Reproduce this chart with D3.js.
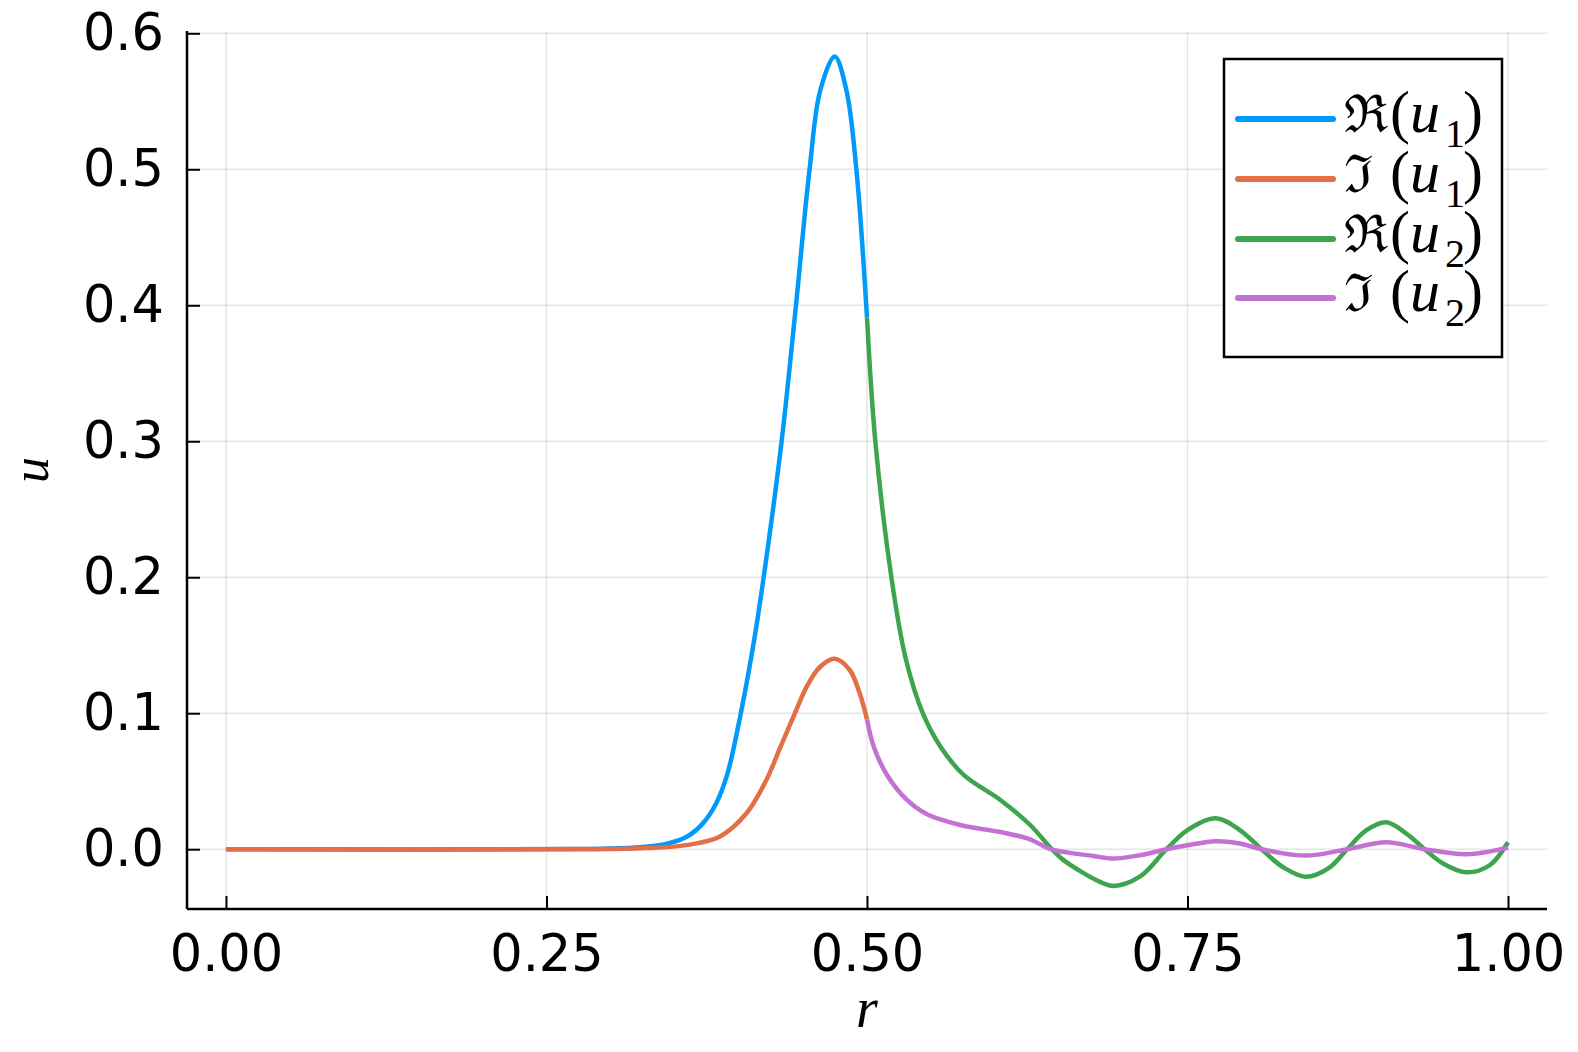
<!DOCTYPE html>
<html>
<head>
<meta charset="utf-8">
<script src="https://cdn.jsdelivr.net/npm/d3@7"></script>
<style>
  body { margin: 0; background: #fff; }
  svg text { font-family: 'DejaVu Sans', sans-serif; }
</style>
</head>
<body>
<script>
const w = 1578;
const h = 1052;

const xTicks = [0, 0.25, 0.5, 0.75, 1.0];
const xTickLabels = ['0.00', '0.25', '0.50', '0.75', '1.00'];
const yTicks = [0, 0.1, 0.2, 0.3, 0.4, 0.5, 0.6];
const yTickLabels = ['0.0', '0.1', '0.2', '0.3', '0.4', '0.5', '0.6'];

// Re(u1) on [0, 0.5]
const rRe1 = [0, 0.28, 0.32, 0.345, 0.36, 0.372, 0.382, 0.391, 0.402, 0.412, 0.4194, 0.4334, 0.4446, 0.4552, 0.4636, 0.4748, 0.4839, 0.4917, 0.5];
const re1 = [0, 0.0001, 0.0012, 0.0043, 0.0095, 0.019, 0.033, 0.055, 0.102, 0.154, 0.2, 0.3, 0.4, 0.5, 0.5583, 0.583, 0.5583, 0.5, 0.391];

// Im(u1) on [0, 0.5]
const rIm1 = [0, 0.3, 0.33, 0.359, 0.385, 0.406, 0.4215, 0.4326, 0.4438, 0.4527, 0.4631, 0.4748, 0.4865, 0.4943, 0.5];
const im1 = [0, 0.0001, 0.0008, 0.003, 0.0092, 0.0264, 0.0509, 0.0754, 0.1, 0.119, 0.1338, 0.14, 0.1318, 0.1146, 0.0955];

// Re(u2) on [0.5, 1]
const rRe2 = [0.5, 0.5065, 0.519, 0.53, 0.5435, 0.5572, 0.5754, 0.604, 0.6273, 0.6442, 0.6533, 0.6817, 0.692, 0.7128, 0.7336, 0.75, 0.7721, 0.7908, 0.8077, 0.8246, 0.8423, 0.861, 0.8745, 0.8896, 0.9051, 0.9207, 0.935, 0.9493, 0.9675, 0.9857, 1.0];
const re2 = [0.391, 0.3, 0.2, 0.141, 0.1, 0.0756, 0.0546, 0.0362, 0.0178, 0, -0.008, -0.024, -0.027, -0.0202, 0, 0.0141, 0.0227, 0.0141, 0, -0.0133, -0.0202, -0.0133, 0, 0.014, 0.0198, 0.0115, 0, -0.0105, -0.017, -0.0118, 0.0051];

// Im(u2) on [0.5, 1]
const rIm2 = [0.5, 0.5052, 0.5156, 0.5312, 0.5468, 0.5728, 0.604, 0.6273, 0.643, 0.6767, 0.692, 0.7128, 0.7336, 0.75, 0.7721, 0.7908, 0.8077, 0.8423, 0.8745, 0.9051, 0.935, 0.9675, 1.0];
const im2 = [0.0955, 0.0756, 0.0546, 0.0362, 0.0257, 0.0178, 0.0126, 0.0073, 0, -0.005, -0.0069, -0.0044, 0, 0.0029, 0.0059, 0.0042, 0, -0.0047, 0, 0.0051, 0, -0.0037, 0.0012];

const seriesColors = ['#009AFA', '#E36F47', '#3EA44E', '#C371D2'];
const legendLetters = ['\u211C', '\u2111', '\u211C', '\u2111'];
const legendSubs = ['1', '1', '2', '2'];

const series = [
  { r: rRe1, u: re1 },
  { r: rIm1, u: im1 },
  { r: rRe2, u: re2 },
  { r: rIm2, u: im2 }
];

const pLeft = 187, pRight = 1547, pTop = 31, pBottom = 909;

const x = d3.scaleLinear().domain([-0.0304, 1.0304]).range([pLeft, pRight]);
const y = d3.scaleLinear().domain([-0.04397, 0.6017]).range([pBottom, pTop]);

const svg = d3.select('body')
  .append('svg')
  .attr('width', w)
  .attr('height', h);

svg.append('rect').attr('width', w).attr('height', h).attr('fill', '#fff');

// grid
svg.selectAll('line.gx')
  .data(xTicks)
  .enter()
  .append('line')
  .attr('x1', d => x(d)).attr('x2', d => x(d))
  .attr('y1', pTop).attr('y2', pBottom)
  .attr('stroke', '#000').attr('stroke-opacity', 0.1).attr('stroke-width', 1.5);

svg.selectAll('line.gy')
  .data(yTicks)
  .enter()
  .append('line')
  .attr('x1', pLeft).attr('x2', pRight)
  .attr('y1', d => y(d)).attr('y2', d => y(d))
  .attr('stroke', '#000').attr('stroke-opacity', 0.1).attr('stroke-width', 1.5);

// axes
const xAxis = d3.axisBottom(x)
  .tickValues(xTicks)
  .tickFormat((d, i) => xTickLabels[i])
  .tickSizeInner(-13)
  .tickSizeOuter(0)
  .tickPadding(26);

const yAxis = d3.axisLeft(y)
  .tickValues(yTicks)
  .tickFormat((d, i) => yTickLabels[i])
  .tickSizeInner(-13)
  .tickSizeOuter(0)
  .tickPadding(23);

const gx = svg.append('g').attr('transform', `translate(0,${pBottom})`).call(xAxis);
const gy = svg.append('g').attr('transform', `translate(${pLeft},0)`).call(yAxis);

[gx, gy].forEach(g => {
  g.select('.domain').attr('stroke', '#000').attr('stroke-width', 2.5);
  g.selectAll('.tick line').attr('stroke', '#000').attr('stroke-width', 2);
  g.selectAll('.tick text')
    .attr('fill', '#000')
    .style('font-family', "'DejaVu Sans', sans-serif")
    .style('font-size', '51px');
});
gx.select('.domain').attr('d', `M${pLeft},0H${pRight}`);
gy.select('.domain').attr('d', `M0,${pBottom}V${pTop}`);

// axis labels
svg.append('text')
  .attr('x', (pLeft + pRight) / 2)
  .attr('y', 1027)
  .attr('text-anchor', 'middle')
  .style('font-family', "'Liberation Serif', serif")
  .style('font-style', 'italic')
  .style('font-size', '56px')
  .text('r');

svg.append('text')
  .attr('transform', `translate(48,${(pTop + pBottom) / 2}) rotate(-90)`)
  .attr('text-anchor', 'middle')
  .style('font-family', "'Liberation Serif', serif")
  .style('font-style', 'italic')
  .style('font-size', '52px')
  .text('u');

// curves
const line = d3.line()
  .x(d => x(d[0]))
  .y(d => y(d[1]))
  .curve(d3.curveCatmullRom.alpha(0.5));

svg.selectAll('path.curve')
  .data(series)
  .enter()
  .append('path')
  .attr('class', 'curve')
  .attr('d', s => line(s.r.map((r, i) => [r, s.u[i]])))
  .attr('fill', 'none')
  .attr('stroke', (s, i) => seriesColors[i])
  .attr('stroke-width', 4.5)
  .attr('stroke-linejoin', 'round');

// legend
const legend = svg.append('g');
legend.append('rect')
  .attr('x', 1224).attr('y', 59)
  .attr('width', 278).attr('height', 298)
  .attr('fill', '#fff')
  .attr('stroke', '#000')
  .attr('stroke-width', 2.5);

const rowY = [119, 179, 239, 298];

series.forEach((s, i) => {
  const yy = rowY[i];
  legend.append('line')
    .attr('x1', 1238).attr('x2', 1333)
    .attr('y1', yy).attr('y2', yy)
    .attr('stroke', seriesColors[i])
    .attr('stroke-width', 6)
    .attr('stroke-linecap', 'round');

  const base = yy + 13;
  const t = legend.append('text')
    .attr('y', base)
    .style('font-family', "'Liberation Serif', serif")
    .style('font-size', '60px');
  t.append('tspan')
    .attr('x', 1344)
    .style('font-family', "'DejaVu Serif', serif")
    .style('font-size', '52px')
    .text(legendLetters[i]);
  t.append('tspan').attr('x', 1390).text('(');
  t.append('tspan').attr('x', 1410).style('font-style', 'italic').text('u');
  t.append('tspan').attr('x', 1445).attr('y', base + 15).style('font-size', '40px').text(legendSubs[i]);
  t.append('tspan').attr('x', 1463).attr('y', base).text(')');
});
</script>
</body>
</html>
